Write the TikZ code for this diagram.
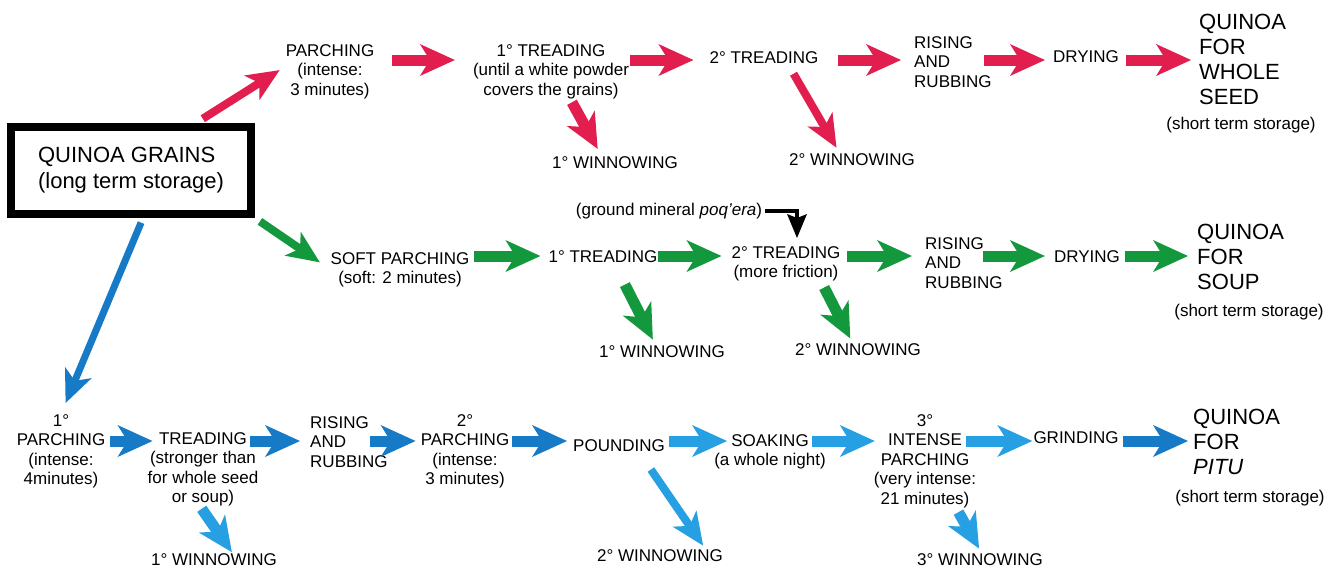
\documentclass[tikz,border=0pt]{standalone}
\usepackage{fontspec}
\setmainfont{Liberation Sans}
\usepackage{tikz}
\usetikzlibrary{arrows.meta}

\definecolor{quired}{RGB}{226,30,78}
\definecolor{quigreen}{RGB}{20,152,62}
\definecolor{quiblue}{RGB}{22,122,198}
\definecolor{quilight}{RGB}{38,160,226}

\begin{document}
\begin{tikzpicture}[x=1pt, y=-1pt,
    lbl/.style={inner sep=0pt, align=center, font=\fontsize{17}{19.5}\selectfont},
    big/.style={inner sep=0pt, align=left, font=\fontsize{22}{25}\selectfont},
    arr/.style={line width=11pt, -{Stealth[length=35pt, width=32pt, inset=10pt, line width=0pt]}},
    diag/.style={line width=8pt, -{Stealth[length=33pt, width=29pt, inset=9pt, line width=0pt]}}]
  \useasboundingbox (0,0) rectangle (1341,573);

  % levels of the three chains
  \coordinate (r1) at (0,60);
  \coordinate (r2) at (0,256);
  \coordinate (r3) at (0,441);

  \node[draw, line width=8pt, minimum width=240pt, minimum height=87pt, inner sep=0pt,
    align=left, font=\fontsize{22}{26}\selectfont] (grains) at (131,170.5)
    {QUINOA GRAINS\\(long term storage)};

  % whole seed
  \node[lbl, anchor=north] (parch) at (330,44) {PARCHING\\(intense:\\3 minutes)};
  \node[lbl, anchor=north] (tread1) at (551,44) {1° TREADING\\(until a white powder\\covers the grains)};
  \node[lbl] (tread2) at (764,58) {2° TREADING};
  \node[lbl, align=left, anchor=north west] (rise1) at (914,36) {RISING\\AND\\RUBBING};
  \node[lbl] (dry1) at (1086,57) {DRYING};
  \node[big, anchor=north west] (seed) at (1199,14) {QUINOA\\FOR\\WHOLE\\SEED};
  \node[lbl] (store1) at (1241,125) {(short term storage)};
  \node[lbl] (win1r) at (615,163) {1° WINNOWING};
  \node[lbl] (win2r) at (852,160) {2° WINNOWING};

  % soup
  \node[lbl, anchor=north] (soft) at (400,252) {SOFT PARCHING\\(soft: 2 minutes)};
  \node[lbl] (tread1g) at (603,257) {1° TREADING};
  \node[lbl, anchor=north] (tread2g) at (786,246) {2° TREADING\\(more friction)};
  \node[lbl] (mineral) at (669,211) {(ground mineral \textit{poq’era})};
  \node[lbl, align=left, anchor=north west] (rise2) at (925,237) {RISING\\AND\\RUBBING};
  \node[lbl] (dry2) at (1087,257) {DRYING};
  \node[big, anchor=north west] (soup) at (1197,224) {QUINOA\\FOR\\SOUP};
  \node[lbl] (store2) at (1249,312) {(short term storage)};
  \node[lbl] (win1g) at (662,352) {1° WINNOWING};
  \node[lbl] (win2g) at (858,350) {2° WINNOWING};

  % pitu
  \node[lbl, anchor=north] (parch1b) at (61,414) {1°\\PARCHING\\(intense:\\4minutes)};
  \node[lbl, anchor=north] (treadb) at (203,432) {TREADING\\(stronger than\\for whole seed\\or soup)};
  \node[lbl, align=left, anchor=north west] (rise3) at (310,416) {RISING\\AND\\RUBBING};
  \node[lbl, anchor=north] (parch2b) at (465,414) {2°\\PARCHING\\(intense:\\3 minutes)};
  \node[lbl] (pound) at (619,446) {POUNDING};
  \node[lbl, anchor=north] (soak) at (770,434) {SOAKING\\(a whole night)};
  \node[lbl, anchor=north] (int3) at (925,414) {3°\\INTENSE\\PARCHING\\(very intense:\\21 minutes)};
  \node[lbl] (grind) at (1076,438) {GRINDING};
  \node[big, anchor=north west] (pitu) at (1193,409) {QUINOA\\FOR\\\textit{PITU}};
  \node[lbl] (store3) at (1250,498) {(short term storage)};
  \node[lbl] (win1b) at (214,560) {1° WINNOWING};
  \node[lbl] (win2b) at (660,556) {2° WINNOWING};
  \node[lbl] (win3b) at (980,560) {3° WINNOWING};

  % out of the store
  \draw[diag, quired, shorten <=8pt, shorten >=7pt] ([xshift=65pt]grains.north) -- ([yshift=5pt]parch.west);
  \draw[diag, quigreen, shorten <=6pt, shorten >=13pt] (grains.south east) -- (soft.west);
  \draw[diag, quiblue, line width=7pt, shorten <=5pt, shorten >=12pt] ([xshift=12pt]grains.south) -- (parch1b.north);

  % the chains (start/end gaps per arrow)
  \foreach \a/\b/\s/\t in {parch/tread1/18/18, tread1/tread2/1/16, tread2/rise1/19/13,
      rise1/dry1/-8/8, dry1/seed/7/8}
    \draw[arr, quired, shorten <=\s pt, shorten >=\t pt] (\a.east |- r1) -- (\b.west |- r1);
  \foreach \a/\b/\s/\t in {soft/tread1g/5/8, tread1g/tread2g/0/10, tread2g/rise2/6/13,
      rise2/dry2/-20/9, dry2/soup/5/9}
    \draw[arr, quigreen, shorten <=\s pt, shorten >=\t pt] (\a.east |- r2) -- (\b.west |- r2);
  \foreach \a/\b/\s/\t/\col in {parch1b/treadb/5/-5/quiblue, treadb/rise3/-8/10/quiblue,
      rise3/parch2b/-18/5/quiblue, parch2b/pound/3/6/quiblue, pound/soak/4/-13/quilight,
      soak/int3/-14/-1/quilight, int3/grind/-10/1/quilight, grind/pitu/4/5/quiblue}
    \draw[arr, color=\col, shorten <=\s pt, shorten >=\t pt] (\a.east |- r3) -- (\b.west |- r3);

  % winnowing
  \draw[arr, quired, shorten <=4pt, shorten >=9pt] ([xshift=19pt]tread1.south) -- ([xshift=-13pt]win1r.north);
  \draw[diag, quired, shorten <=11pt, shorten >=7pt] ([xshift=24pt]tread2.south) -- ([xshift=-12pt]win2r.north);
  \draw[arr, quigreen, shorten <=24pt, shorten >=7pt] ([xshift=11pt]tread1g.south) -- ([xshift=-6pt]win1g.north);
  \draw[arr, quigreen, shorten <=7pt, shorten >=6pt] ([xshift=35pt]tread2g.south) -- ([xshift=-5pt]win2g.north);
  \draw[arr, quilight, shorten <=3pt, shorten >=2pt] ([xshift=-3pt]treadb.south) -- ([xshift=19pt]win1b.north);
  \draw[diag, quilight, shorten <=21pt, shorten >=5pt] ([xshift=20pt]pound.south) -- ([xshift=46pt]win2b.north);
  \draw[arr, quilight, shorten <=5pt, shorten >=6pt] ([xshift=31pt]int3.south) -- ([xshift=2pt]win3b.north);

  % added mineral
  \draw[line width=4.5pt, -{Stealth[length=24pt, width=20pt, inset=4pt, line width=0pt]},
    shorten <=3pt, shorten >=8pt] (mineral.east) -| ([xshift=11pt]tread2g.north);
\end{tikzpicture}
\end{document}
